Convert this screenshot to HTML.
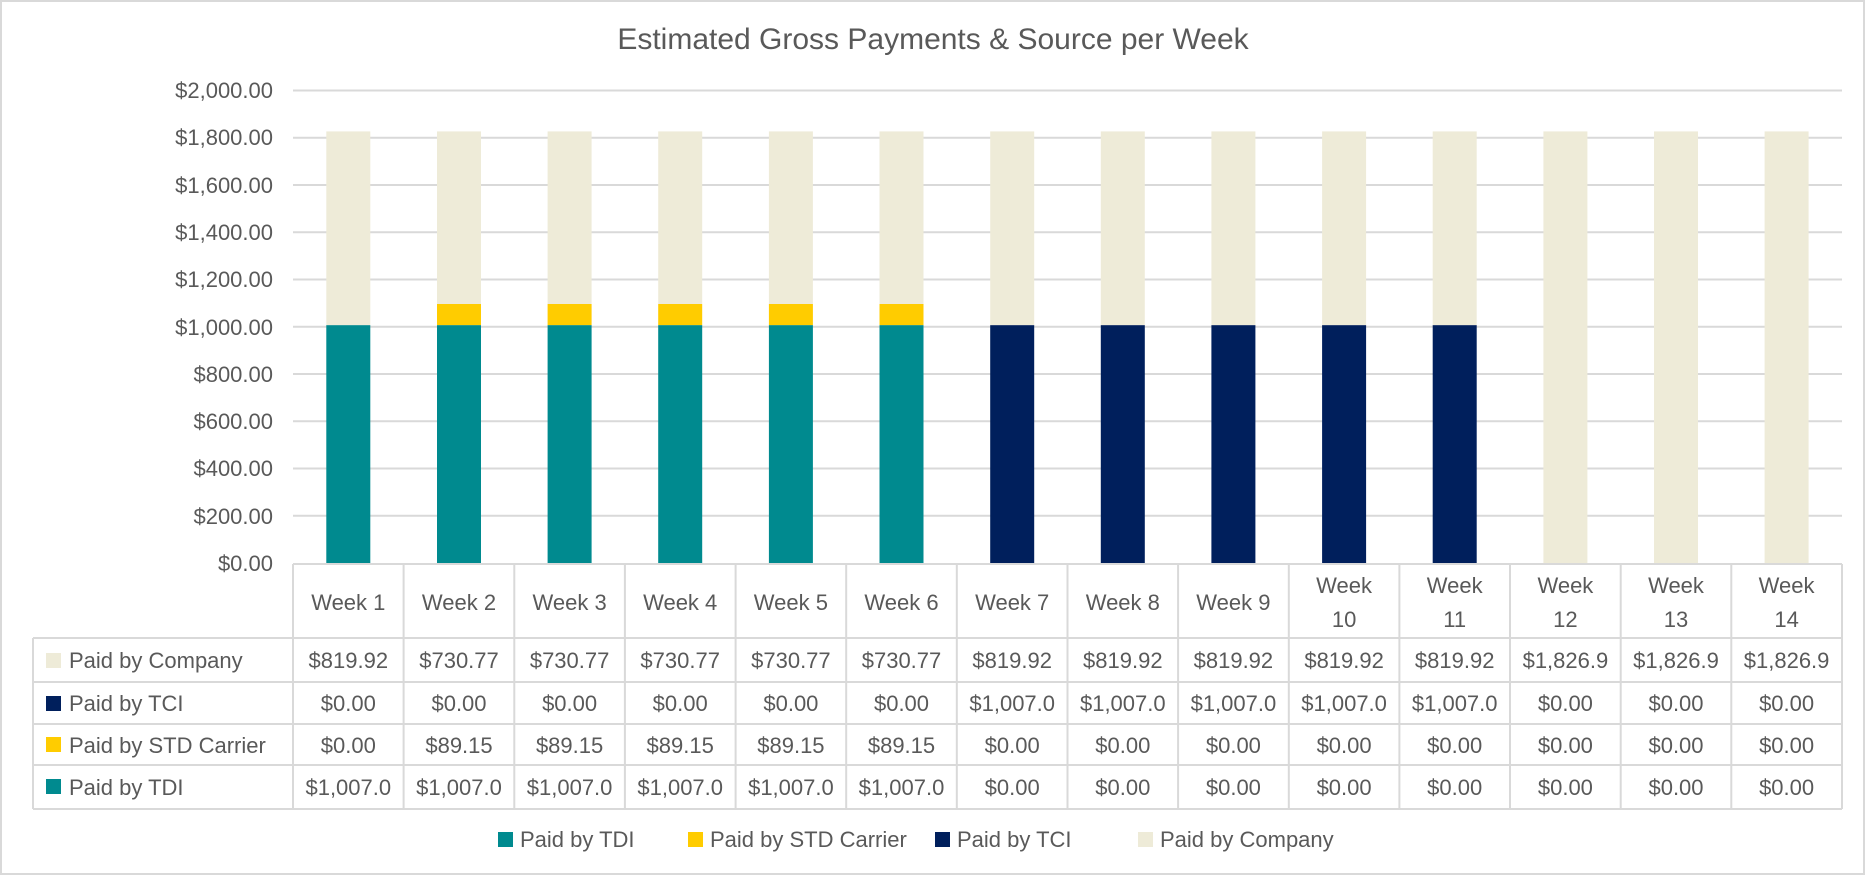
<!DOCTYPE html>
<html><head><meta charset="utf-8"><style>
html,body{margin:0;padding:0;background:#fff}
svg{display:block}
text{font-family:"Liberation Sans",sans-serif;fill:#595959}
.ax{font-size:22px;text-anchor:end}
.t{font-size:22px;text-anchor:middle}
.l{font-size:22px;text-anchor:start}
</style></head><body>
<svg width="1866" height="877" viewBox="0 0 1866 877" xmlns="http://www.w3.org/2000/svg">
<rect x="1" y="1" width="1863" height="873" fill="#fff" stroke="#d9d9d9" stroke-width="2"/>
<text x="933" y="49" style="font-size:30px;text-anchor:middle">Estimated Gross Payments &amp; Source per Week</text>
<g stroke="#d9d9d9" stroke-width="2">
<line x1="293" x2="1842" y1="90.5" y2="90.5"/><line x1="293" x2="1842" y1="137.8" y2="137.8"/>
<line x1="293" x2="1842" y1="185" y2="185"/><line x1="293" x2="1842" y1="232.3" y2="232.3"/>
<line x1="293" x2="1842" y1="279.5" y2="279.5"/><line x1="293" x2="1842" y1="326.8" y2="326.8"/>
<line x1="293" x2="1842" y1="374" y2="374"/><line x1="293" x2="1842" y1="421.3" y2="421.3"/>
<line x1="293" x2="1842" y1="468.5" y2="468.5"/><line x1="293" x2="1842" y1="515.8" y2="515.8"/>
</g>
<g>
<text class="ax" x="273" y="98">$2,000.00</text><text class="ax" x="273" y="145">$1,800.00</text>
<text class="ax" x="273" y="193">$1,600.00</text><text class="ax" x="273" y="240">$1,400.00</text>
<text class="ax" x="273" y="287">$1,200.00</text><text class="ax" x="273" y="335">$1,000.00</text>
<text class="ax" x="273" y="382">$800.00</text><text class="ax" x="273" y="429">$600.00</text>
<text class="ax" x="273" y="476">$400.00</text><text class="ax" x="273" y="524">$200.00</text>
<text class="ax" x="273" y="571">$0.00</text>
</g>
<g>
<rect x="326.3" y="325.1" width="44" height="237.9" fill="#008A8F"/><rect x="326.3" y="131.4" width="44" height="193.7" fill="#EEEBD8"/>
<rect x="437" y="325.1" width="44" height="237.9" fill="#008A8F"/><rect x="437" y="304" width="44" height="21.1" fill="#FFCC00"/><rect x="437" y="131.4" width="44" height="172.6" fill="#EEEBD8"/>
<rect x="547.6" y="325.1" width="44" height="237.9" fill="#008A8F"/><rect x="547.6" y="304" width="44" height="21.1" fill="#FFCC00"/><rect x="547.6" y="131.4" width="44" height="172.6" fill="#EEEBD8"/>
<rect x="658.2" y="325.1" width="44" height="237.9" fill="#008A8F"/><rect x="658.2" y="304" width="44" height="21.1" fill="#FFCC00"/><rect x="658.2" y="131.4" width="44" height="172.6" fill="#EEEBD8"/>
<rect x="768.9" y="325.1" width="44" height="237.9" fill="#008A8F"/><rect x="768.9" y="304" width="44" height="21.1" fill="#FFCC00"/><rect x="768.9" y="131.4" width="44" height="172.6" fill="#EEEBD8"/>
<rect x="879.5" y="325.1" width="44" height="237.9" fill="#008A8F"/><rect x="879.5" y="304" width="44" height="21.1" fill="#FFCC00"/><rect x="879.5" y="131.4" width="44" height="172.6" fill="#EEEBD8"/>
<rect x="990.2" y="325.1" width="44" height="237.9" fill="#001F5C"/><rect x="990.2" y="131.4" width="44" height="193.7" fill="#EEEBD8"/>
<rect x="1100.8" y="325.1" width="44" height="237.9" fill="#001F5C"/><rect x="1100.8" y="131.4" width="44" height="193.7" fill="#EEEBD8"/>
<rect x="1211.4" y="325.1" width="44" height="237.9" fill="#001F5C"/><rect x="1211.4" y="131.4" width="44" height="193.7" fill="#EEEBD8"/>
<rect x="1322.1" y="325.1" width="44" height="237.9" fill="#001F5C"/><rect x="1322.1" y="131.4" width="44" height="193.7" fill="#EEEBD8"/>
<rect x="1432.7" y="325.1" width="44" height="237.9" fill="#001F5C"/><rect x="1432.7" y="131.4" width="44" height="193.7" fill="#EEEBD8"/>
<rect x="1543.4" y="131.4" width="44" height="431.6" fill="#EEEBD8"/>
<rect x="1654" y="131.4" width="44" height="431.6" fill="#EEEBD8"/>
<rect x="1764.6" y="131.4" width="44" height="431.6" fill="#EEEBD8"/>
</g>
<g stroke="#d9d9d9" stroke-width="2" fill="none">
<line x1="293" x2="1842" y1="564" y2="564"/>
<line x1="33" x2="1842" y1="638" y2="638"/><line x1="33" x2="1842" y1="682" y2="682"/>
<line x1="33" x2="1842" y1="724" y2="724"/><line x1="33" x2="1842" y1="765" y2="765"/>
<line x1="33" x2="1842" y1="809" y2="809"/>
<line x1="33" x2="33" y1="638" y2="809"/>
<line x1="293" x2="293" y1="564" y2="809"/><line x1="403.6" x2="403.6" y1="564" y2="809"/>
<line x1="514.3" x2="514.3" y1="564" y2="809"/><line x1="624.9" x2="624.9" y1="564" y2="809"/>
<line x1="735.6" x2="735.6" y1="564" y2="809"/><line x1="846.2" x2="846.2" y1="564" y2="809"/>
<line x1="956.8" x2="956.8" y1="564" y2="809"/><line x1="1067.5" x2="1067.5" y1="564" y2="809"/>
<line x1="1178.1" x2="1178.1" y1="564" y2="809"/><line x1="1288.8" x2="1288.8" y1="564" y2="809"/>
<line x1="1399.4" x2="1399.4" y1="564" y2="809"/><line x1="1510" x2="1510" y1="564" y2="809"/>
<line x1="1620.7" x2="1620.7" y1="564" y2="809"/><line x1="1731.3" x2="1731.3" y1="564" y2="809"/>
<line x1="1842" x2="1842" y1="564" y2="809"/>
</g>
<g>
<text class="t" x="348.3" y="610">Week 1</text><text class="t" x="459" y="610">Week 2</text>
<text class="t" x="569.6" y="610">Week 3</text><text class="t" x="680.2" y="610">Week 4</text>
<text class="t" x="790.9" y="610">Week 5</text><text class="t" x="901.5" y="610">Week 6</text>
<text class="t" x="1012.2" y="610">Week 7</text><text class="t" x="1122.8" y="610">Week 8</text>
<text class="t" x="1233.4" y="610">Week 9</text>
<text class="t" x="1344.1" y="593">Week</text><text class="t" x="1344.1" y="627">10</text>
<text class="t" x="1454.7" y="593">Week</text><text class="t" x="1454.7" y="627">11</text>
<text class="t" x="1565.4" y="593">Week</text><text class="t" x="1565.4" y="627">12</text>
<text class="t" x="1676" y="593">Week</text><text class="t" x="1676" y="627">13</text>
<text class="t" x="1786.6" y="593">Week</text><text class="t" x="1786.6" y="627">14</text>
</g>
<rect x="46" y="653" width="15" height="15" fill="#EEEBD8"/><text class="l" x="69" y="668">Paid by Company</text>
<rect x="46" y="696" width="15" height="15" fill="#001F5C"/><text class="l" x="69" y="711">Paid by TCI</text>
<rect x="46" y="737" width="15" height="15" fill="#FFCC00"/><text class="l" x="69" y="753">Paid by STD Carrier</text>
<rect x="46" y="779" width="15" height="15" fill="#008A8F"/><text class="l" x="69" y="795">Paid by TDI</text>
<g>
<text class="t" x="348.3" y="668">$819.92</text><text class="t" x="459" y="668">$730.77</text>
<text class="t" x="569.6" y="668">$730.77</text><text class="t" x="680.2" y="668">$730.77</text>
<text class="t" x="790.9" y="668">$730.77</text><text class="t" x="901.5" y="668">$730.77</text>
<text class="t" x="1012.2" y="668">$819.92</text><text class="t" x="1122.8" y="668">$819.92</text>
<text class="t" x="1233.4" y="668">$819.92</text><text class="t" x="1344.1" y="668">$819.92</text>
<text class="t" x="1454.7" y="668">$819.92</text><text class="t" x="1565.4" y="668">$1,826.9</text>
<text class="t" x="1676" y="668">$1,826.9</text><text class="t" x="1786.6" y="668">$1,826.9</text>
</g>
<g>
<text class="t" x="348.3" y="711">$0.00</text><text class="t" x="459" y="711">$0.00</text>
<text class="t" x="569.6" y="711">$0.00</text><text class="t" x="680.2" y="711">$0.00</text>
<text class="t" x="790.9" y="711">$0.00</text><text class="t" x="901.5" y="711">$0.00</text>
<text class="t" x="1012.2" y="711">$1,007.0</text><text class="t" x="1122.8" y="711">$1,007.0</text>
<text class="t" x="1233.4" y="711">$1,007.0</text><text class="t" x="1344.1" y="711">$1,007.0</text>
<text class="t" x="1454.7" y="711">$1,007.0</text><text class="t" x="1565.4" y="711">$0.00</text>
<text class="t" x="1676" y="711">$0.00</text><text class="t" x="1786.6" y="711">$0.00</text>
</g>
<g>
<text class="t" x="348.3" y="753">$0.00</text><text class="t" x="459" y="753">$89.15</text>
<text class="t" x="569.6" y="753">$89.15</text><text class="t" x="680.2" y="753">$89.15</text>
<text class="t" x="790.9" y="753">$89.15</text><text class="t" x="901.5" y="753">$89.15</text>
<text class="t" x="1012.2" y="753">$0.00</text><text class="t" x="1122.8" y="753">$0.00</text>
<text class="t" x="1233.4" y="753">$0.00</text><text class="t" x="1344.1" y="753">$0.00</text>
<text class="t" x="1454.7" y="753">$0.00</text><text class="t" x="1565.4" y="753">$0.00</text>
<text class="t" x="1676" y="753">$0.00</text><text class="t" x="1786.6" y="753">$0.00</text>
</g>
<g>
<text class="t" x="348.3" y="795">$1,007.0</text><text class="t" x="459" y="795">$1,007.0</text>
<text class="t" x="569.6" y="795">$1,007.0</text><text class="t" x="680.2" y="795">$1,007.0</text>
<text class="t" x="790.9" y="795">$1,007.0</text><text class="t" x="901.5" y="795">$1,007.0</text>
<text class="t" x="1012.2" y="795">$0.00</text><text class="t" x="1122.8" y="795">$0.00</text>
<text class="t" x="1233.4" y="795">$0.00</text><text class="t" x="1344.1" y="795">$0.00</text>
<text class="t" x="1454.7" y="795">$0.00</text><text class="t" x="1565.4" y="795">$0.00</text>
<text class="t" x="1676" y="795">$0.00</text><text class="t" x="1786.6" y="795">$0.00</text>
</g>
<rect x="498" y="832" width="15" height="15" fill="#008A8F"/><text class="l" x="520" y="847">Paid by TDI</text>
<rect x="688" y="832" width="15" height="15" fill="#FFCC00"/><text class="l" x="710" y="847">Paid by STD Carrier</text>
<rect x="935" y="832" width="15" height="15" fill="#001F5C"/><text class="l" x="957" y="847">Paid by TCI</text>
<rect x="1138" y="832" width="15" height="15" fill="#EEEBD8"/><text class="l" x="1160" y="847">Paid by Company</text>
</svg>
</body></html>
